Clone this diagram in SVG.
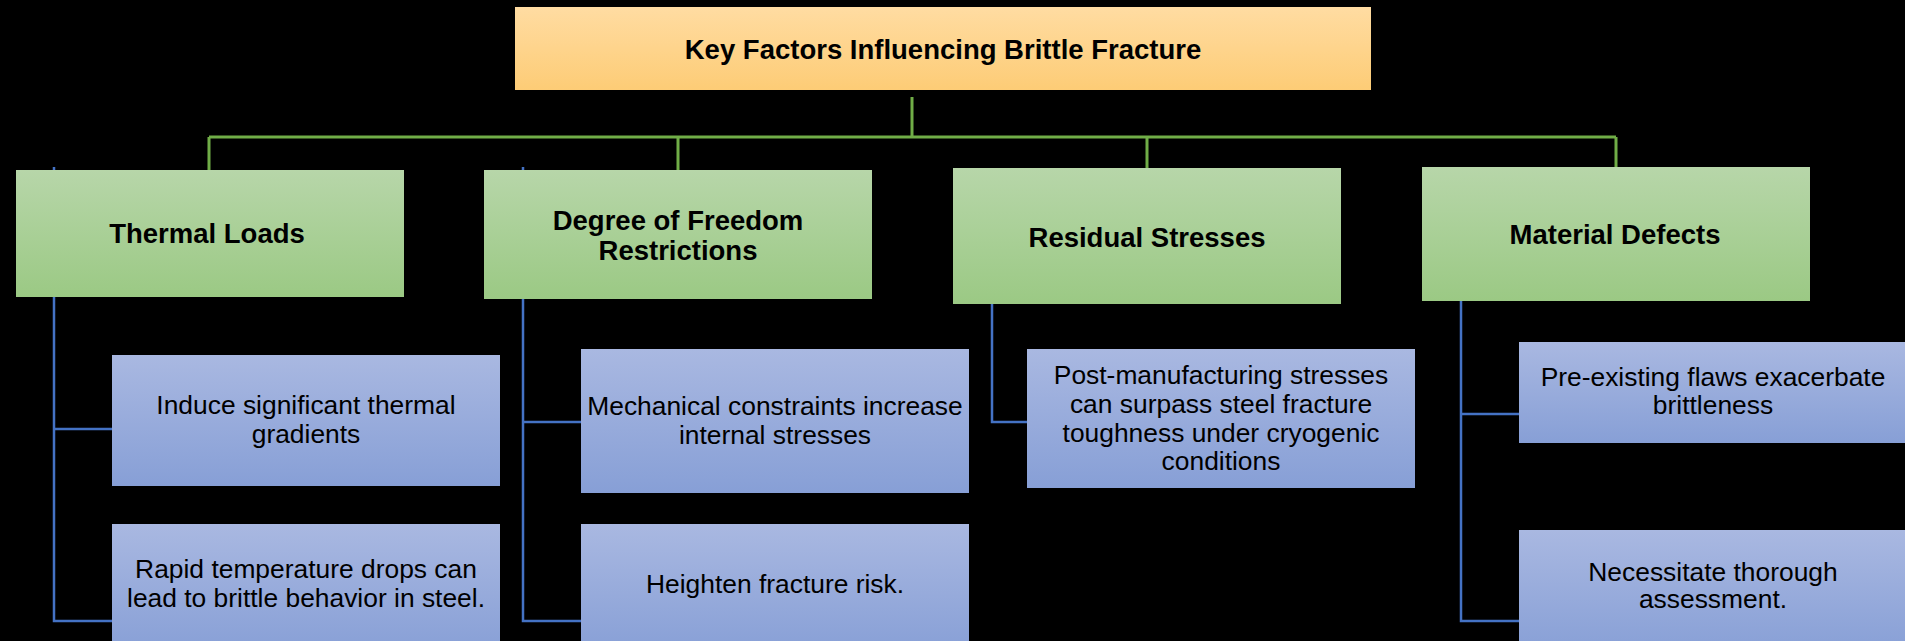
<svg xmlns="http://www.w3.org/2000/svg" width="1905" height="641" viewBox="0 0 1905 641">
  <defs>
    <linearGradient id="gOrange" x1="0" y1="0" x2="0" y2="1">
      <stop offset="0" stop-color="#FFDCA2"/>
      <stop offset="1" stop-color="#FDCC76"/>
    </linearGradient>
    <linearGradient id="gGreen" x1="0" y1="0" x2="0" y2="1">
      <stop offset="0" stop-color="#B7D6A9"/>
      <stop offset="1" stop-color="#9BC984"/>
    </linearGradient>
    <linearGradient id="gBlue" x1="0" y1="0" x2="0" y2="1">
      <stop offset="0" stop-color="#A9B8E1"/>
      <stop offset="1" stop-color="#879FD6"/>
    </linearGradient>
  </defs>
  <style>
    .root { fill: url(#gOrange); }
    .cat { fill: url(#gGreen); }
    .item { fill: url(#gBlue); }
    .hd { font-family: "Liberation Sans", Arial, sans-serif; font-weight: bold; font-size: 27.5px; fill: #000; text-anchor: middle; }
    .tx { font-family: "Liberation Sans", Arial, sans-serif; font-size: 26.4px; fill: #000; text-anchor: middle; }
    .lg { fill: none; stroke: #70AD47; stroke-width: 3; }
    .lb { fill: none; stroke: #4472C4; stroke-width: 2.5; }
  </style>

  <rect x="0" y="0" width="1905" height="641" fill="#000"/>

  <!-- connectors -->
  <g id="connectors">
    <path class="lg" d="M912 97 V137 M209 137 H1616 M209 137 V171 M678 137 V171 M1147 137 V169 M1616 137 V168"/>
    <path class="lb" d="M54 167 V621 H113 M54 429 H113"/>
    <path class="lb" d="M523 167 V621 H582 M523 422 H582"/>
    <path class="lb" d="M992 300 V422 H1028"/>
    <path class="lb" d="M1461 299 V621 H1520 M1461 414 H1520"/>
  </g>

  <!-- root -->
  <g id="root">
    <rect class="root" x="515" y="7" width="856" height="83"/>
    <text class="hd" x="943" y="58.5">Key Factors Influencing Brittle Fracture</text>
  </g>

  <!-- categories -->
  <g id="thermal-loads">
    <rect class="cat" x="16" y="170" width="388" height="127"/>
    <text class="hd" x="207" y="243">Thermal Loads</text>
  </g>
  <g id="dof-restrictions">
    <rect class="cat" x="484" y="170" width="388" height="129"/>
    <text class="hd" x="678" y="230">Degree of Freedom</text>
    <text class="hd" x="678" y="260">Restrictions</text>
  </g>
  <g id="residual-stresses">
    <rect class="cat" x="953" y="168" width="388" height="136"/>
    <text class="hd" x="1147" y="247">Residual Stresses</text>
  </g>
  <g id="material-defects">
    <rect class="cat" x="1422" y="167" width="388" height="134"/>
    <text class="hd" x="1615" y="244">Material Defects</text>
  </g>

  <!-- items -->
  <g id="thermal-1">
    <rect class="item" x="112" y="355" width="388" height="131"/>
    <text class="tx" x="306" y="414">Induce significant thermal</text>
    <text class="tx" x="306" y="442.5">gradients</text>
  </g>
  <g id="thermal-2">
    <rect class="item" x="112" y="524" width="388" height="130"/>
    <text class="tx" x="306" y="578">Rapid temperature drops can</text>
    <text class="tx" x="306" y="606.5">lead to brittle behavior in steel.</text>
  </g>
  <g id="dof-1">
    <rect class="item" x="581" y="349" width="388" height="144"/>
    <text class="tx" x="775" y="415">Mechanical constraints increase</text>
    <text class="tx" x="775" y="443.5">internal stresses</text>
  </g>
  <g id="dof-2">
    <rect class="item" x="581" y="524" width="388" height="130"/>
    <text class="tx" x="775" y="593">Heighten fracture risk.</text>
  </g>
  <g id="residual-1">
    <rect class="item" x="1027" y="349" width="388" height="139"/>
    <text class="tx" x="1221" y="384">Post-manufacturing stresses</text>
    <text class="tx" x="1221" y="412.5">can surpass steel fracture</text>
    <text class="tx" x="1221" y="441.5">toughness under cryogenic</text>
    <text class="tx" x="1221" y="470">conditions</text>
  </g>
  <g id="defects-1">
    <rect class="item" x="1519" y="342" width="388" height="101"/>
    <text class="tx" x="1713" y="386">Pre-existing flaws exacerbate</text>
    <text class="tx" x="1713" y="414">brittleness</text>
  </g>
  <g id="defects-2">
    <rect class="item" x="1519" y="530" width="388" height="124"/>
    <text class="tx" x="1713" y="581">Necessitate thorough</text>
    <text class="tx" x="1713" y="608">assessment.</text>
  </g>
</svg>
